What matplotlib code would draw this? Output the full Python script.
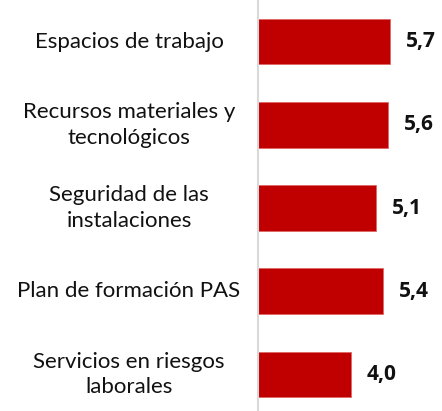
import matplotlib.pyplot as plt

categories = ['Espacios de trabajo', 'Recursos materiales y\ntecnológicos',
              'Seguridad de las\ninstalaciones', 'Plan de formación PAS',
              'Servicios en riesgos\nlaborales']
values = [5.7, 5.6, 5.1, 5.4, 4.0]
value_labels = ['5,7', '5,6', '5,1', '5,4', '4,0']

plt.rcParams['font.family'] = ['Lato', 'DejaVu Sans']

fig = plt.figure(figsize=(4.42, 4.11), dpi=100)
ax = fig.add_axes([258 / 442, -5 / 411, 184 / 442, 416 / 411])

y = list(range(len(categories)))
ax.barh(y, values, height=0.55, color='#C00000', edgecolor='#E06666', linewidth=0.6)
ax.set_xlim(0, 184 / 23.2)
ax.set_ylim(len(categories) - 0.5, -0.5)

# bold value labels right of each bar
for yi, v, lab in zip(y, values, value_labels):
    ax.annotate(lab, (v, yi), xytext=(16, 0), textcoords='offset pixels',
                va='center', ha='left', fontsize=15, fontweight='bold',
                family=['Open Sans', 'DejaVu Sans'], color='#111111')

# category names centred in the left margin
for yi, cat in zip(y, categories):
    ax.annotate(cat, (0, yi), xytext=(-129, 0), textcoords='offset pixels',
                va='center', ha='center', multialignment='center',
                fontsize=16, color='#111111', linespacing=1.35)

ax.set_xticks([])
ax.set_yticks([])
for s in ['top', 'right', 'bottom']:
    ax.spines[s].set_visible(False)
ax.spines['left'].set_color('#D9D9D9')
ax.spines['left'].set_linewidth(1.5)

fig.savefig('out.png', dpi=100)
